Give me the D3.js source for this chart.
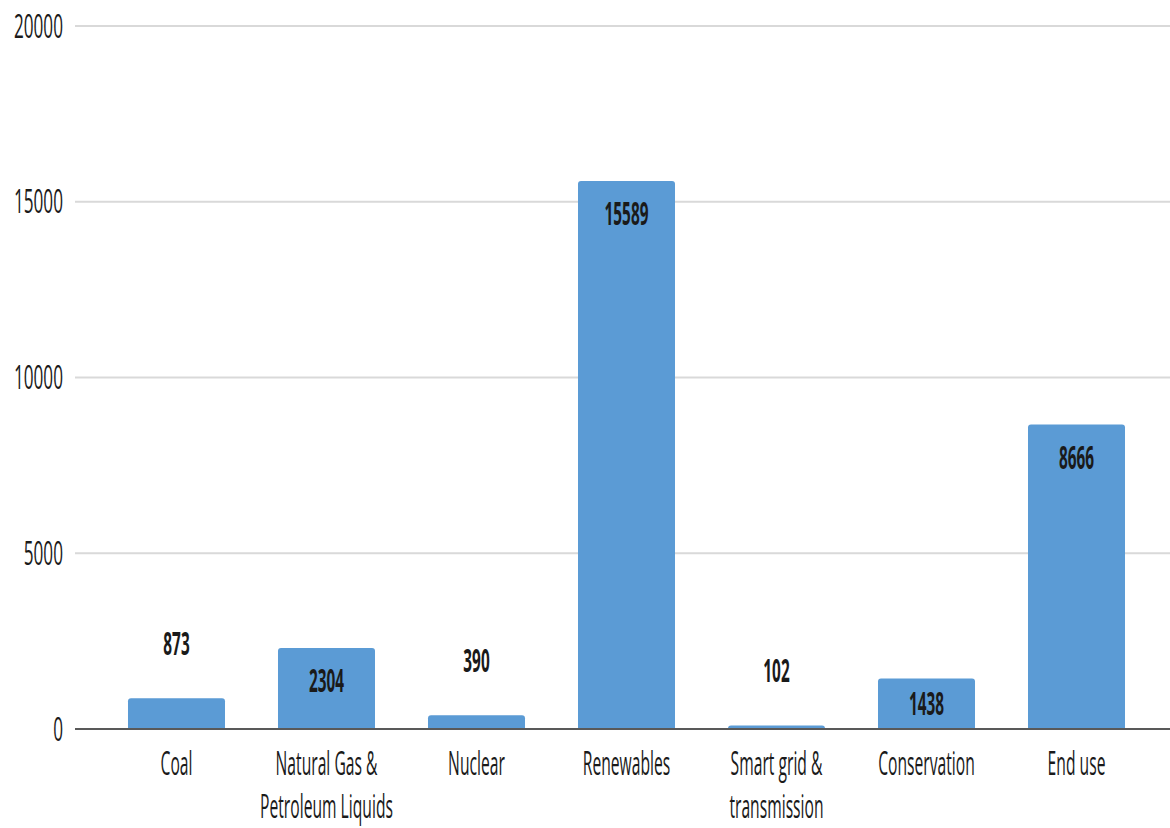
<!DOCTYPE html>
<html>
<head>
<meta charset="utf-8">
<script src="https://cdn.jsdelivr.net/npm/d3@7"></script>
<style>
    body { margin: 0; background: #fff; }
    svg text { font-family: 'Open Sans', sans-serif; fill: #1a1a1a; }
</style>
</head>
<body>
<svg id="chart" width="1170" height="828"></svg>
<script>
// Chart data
const categories = ['Coal', 'Natural Gas &\nPetroleum Liquids', 'Nuclear', 'Renewables',
    'Smart grid &\ntransmission', 'Conservation', 'End use'];
const values = [873, 2304, 390, 15589, 102, 1438, 8666];
const yTicks = [0, 5000, 10000, 15000, 20000];

/**
 * Visual configs.
 */
const width = 1170, height = 828,
    plot = { left: 75, right: 1178, top: 26, bottom: 729 },
    fontSize = 33,
    barColor = '#5b9bd5';

const svg = d3.select('#chart');

const x = d3.scaleBand()
    .domain(categories)
    .range([plot.left, plot.right])
    .paddingInner(0.3533)
    .paddingOuter(0.3533);

const y = d3.scaleLinear()
    .domain([0, 20000])
    .range([plot.bottom, plot.top]);

// Condensed text helper (the reference text is squeezed horizontally)
function addText(g, tx, ty, str, opts = {}) {
    return g.append('text')
        .attr('transform', `translate(${tx},${ty}) scale(${opts.squeeze || 0.52},1)`)
        .attr('text-anchor', opts.anchor || 'middle')
        .attr('dy', opts.dy || '0.35em')
        .style('font-size', (opts.size || fontSize) + 'px')
        .style('font-weight', opts.weight || 400)
        .text(str);
}

// Gridlines
const grid = svg.append('g').attr('class', 'grid');
grid.selectAll('line').data(yTicks.filter(d => d > 0)).join('line')
    .attr('x1', plot.left).attr('x2', width)
    .attr('y1', d => y(d)).attr('y2', d => y(d))
    .attr('stroke', '#d9d9d9').attr('stroke-width', 2);

// Y tick labels
const yLabels = svg.append('g').attr('class', 'y-labels');
yTicks.forEach(t => addText(yLabels, 63, y(t), t, { anchor: 'end' }));

// Bars with slightly rounded tops
const bars = svg.append('g').attr('class', 'bars');
const r = 3;
bars.selectAll('path').data(values).join('path')
    .attr('fill', barColor)
    .attr('d', (v, i) => {
        const x0 = x(categories[i]), w = x.bandwidth(), y0 = y(v), y1 = y(0);
        const rr = Math.min(r, (y1 - y0));
        return `M${x0},${y1}V${y0 + rr}Q${x0},${y0} ${x0 + rr},${y0}H${x0 + w - rr}` +
            `Q${x0 + w},${y0} ${x0 + w},${y0 + rr}V${y1}Z`;
    });

// Baseline
svg.append('line')
    .attr('x1', plot.left).attr('x2', width)
    .attr('y1', y(0)).attr('y2', y(0))
    .attr('stroke', '#595959').attr('stroke-width', 2);

// Data labels: inside the bar when it fits, above it otherwise
const labels = svg.append('g').attr('class', 'data-labels');
values.forEach((v, i) => {
    const cx = x(categories[i]) + x.bandwidth() / 2,
        top = y(v), h = y(0) - top;
    const ly = h > 45 ? Math.min(top + 33, top + h / 2) : top - 55;
    addText(labels, cx, ly, v, { weight: 700, size: 32, squeeze: 0.48 });
});

// Category labels
const xLabels = svg.append('g').attr('class', 'x-labels');
categories.forEach(c => {
    const cx = x(c) + x.bandwidth() / 2;
    c.split('\n').forEach((line, j) => addText(xLabels, cx, 763 + j * 43, line, { squeeze: 0.475 }));
});
</script>
</body>
</html>
